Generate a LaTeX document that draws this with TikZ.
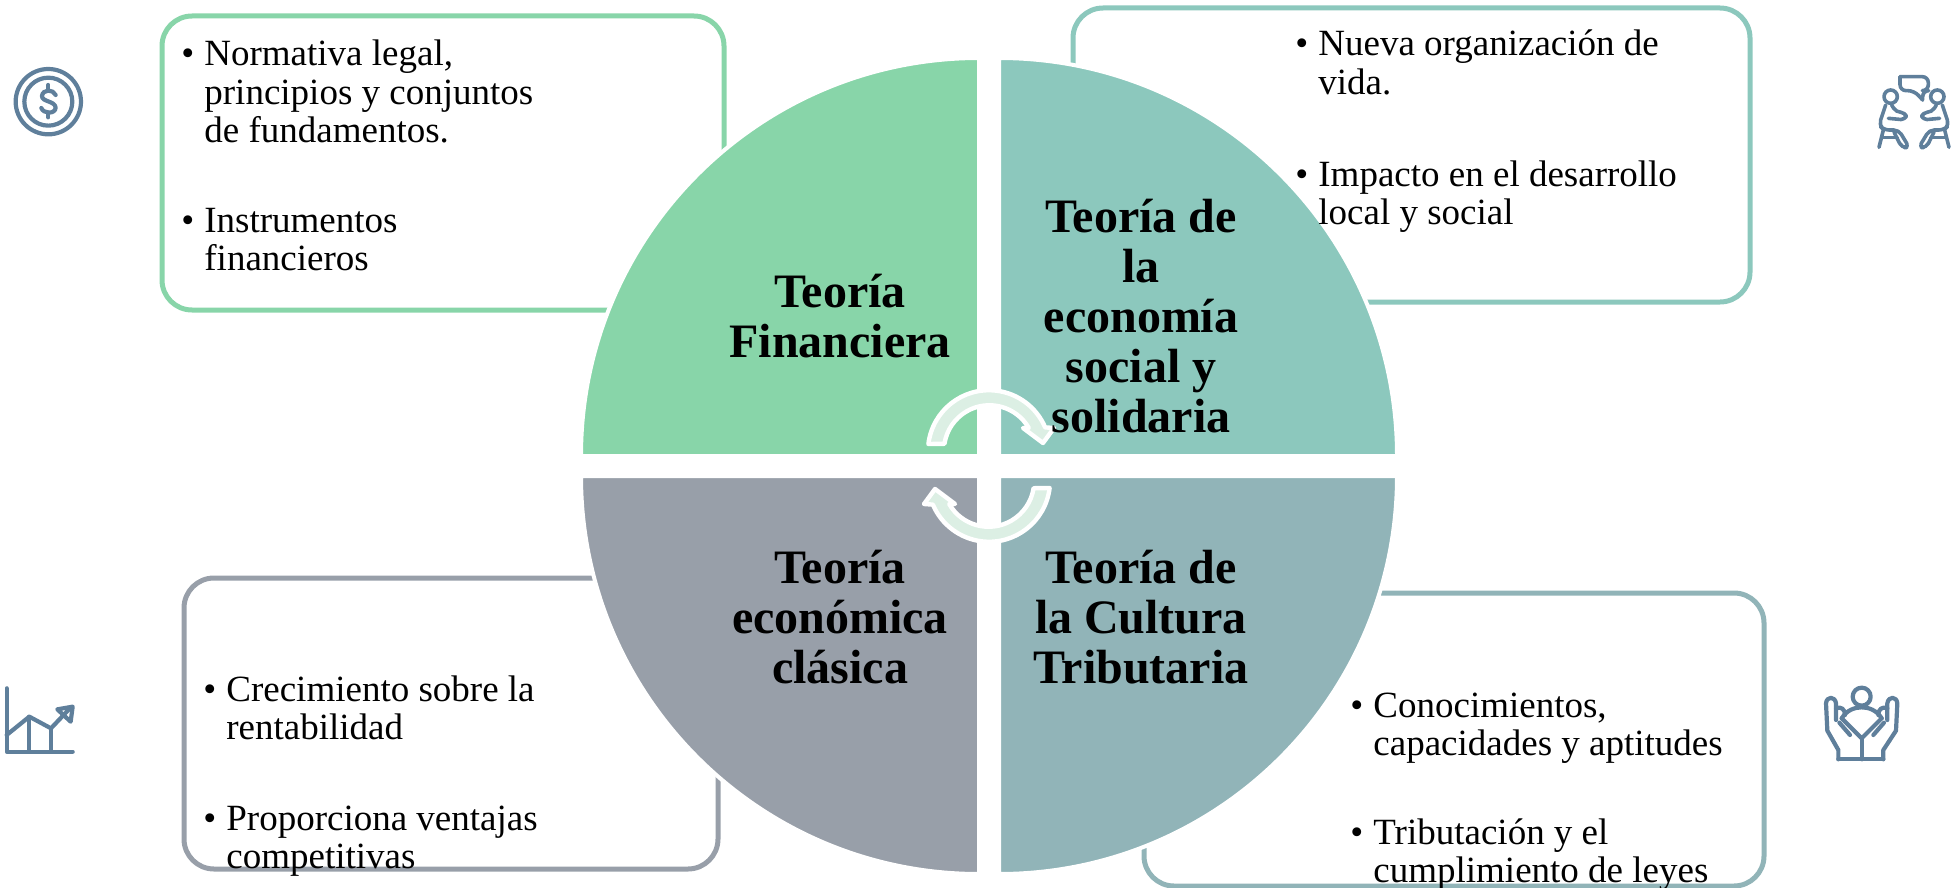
\documentclass[tikz,border=0pt]{standalone}
\usepackage{fontspec}
\setmainfont{Liberation Serif}
\definecolor{cGreen}{HTML}{88D5A9}
\definecolor{cTeal}{HTML}{8CC8BD}
\definecolor{cGrey}{HTML}{989FA9}
\definecolor{cBlue}{HTML}{91B4B8}
\definecolor{cIcon}{HTML}{5F7F9B}
\definecolor{cArrow}{HTML}{DCEFE4}
\newcommand{\bulletlines}[2]{{\fontsize{18.5pt}{19.2pt}\selectfont\begin{tabular}[t]{@{}l@{}l@{}}\makebox[11.5pt][l]{\textbullet}&#1\\#2\end{tabular}}}
\tikzset{
  x=0.5pt,y=0.5pt,
  cardbox/.style={rounded corners=15pt,line width=2.5pt,fill=white},
  wedge/.style={draw=white,line width=2pt},
  itemtext/.style={anchor=base west,inner sep=0pt,text=black},
  title/.style={font=\fontsize{24pt}{25pt}\selectfont\bfseries,align=center,inner sep=0pt,text=black},
  icon/.style={draw=cIcon,line width=2.1pt,line cap=round,line join=round},
  thinicon/.style={icon,line width=1.8pt},
  cyclearrow/.style={fill=cArrow,draw=white,line width=2.2pt,line join=round},
}
\begin{document}
\begin{tikzpicture}
\useasboundingbox (0,-888) rectangle (1959,0);
% cards
\draw[cardbox,draw=cGreen] (162,-16) rectangle (724,-310);
\draw[cardbox,draw=cTeal] (1073,-8) rectangle (1750,-302);
\draw[cardbox,draw=cGrey] (184,-578) rectangle (718,-869);
\draw[cardbox,draw=cBlue] (1144,-593) rectangle (1764,-886);
% quarter sectors
\draw[wedge,fill=cGreen] (979,-456) -- (581,-456) arc[start angle=180,end angle=90,radius=199pt] -- cycle;
\draw[wedge,fill=cTeal] (999,-456) -- (999,-58) arc[start angle=90,end angle=0,radius=199pt] -- cycle;
\draw[wedge,fill=cGrey] (979,-476) -- (979,-874) arc[start angle=270,end angle=180,radius=199pt] -- cycle;
\draw[wedge,fill=cBlue] (999,-476) -- (1397,-476) arc[start angle=0,end angle=-90,radius=199pt] -- cycle;
% cycle arrows
\draw[cyclearrow] (928.4,-444) arc[start angle=173.2,end angle=23,radius=30.5pt] -- (1054,-428) -- (1043,-443) -- (1023,-428) -- (1028.8,-428) arc[start angle=30,end angle=171.2,radius=22.75pt] -- cycle;
\begin{scope}[rotate around={180:(989,-466)}]
\draw[cyclearrow] (928.4,-444) arc[start angle=173.2,end angle=23,radius=30.5pt] -- (1054,-428) -- (1043,-443) -- (1023,-428) -- (1028.8,-428) arc[start angle=30,end angle=171.2,radius=22.75pt] -- cycle;
\end{scope}
% titles
\node[title] (tf) at (840,-316) {Teoría\\Financiera};
\node[title] (te) at (1141,-316) {Teoría de\\la\\economía\\social y\\solidaria};
\node[title] (tc) at (840,-617) {Teoría\\económica\\clásica};
\node[title] (tt) at (1141,-617) {Teoría de\\la Cultura\\Tributaria};
% bullets
\node[itemtext] (a1) at (181,-66) {\bulletlines{Normativa legal,}{&principios y conjuntos\\&de fundamentos.}};
\node[itemtext] (a2) at (181,-232) {\bulletlines{Instrumentos}{&financieros}};
\node[itemtext] (b1) at (1295,-56) {\bulletlines{Nueva organización de}{&vida.}};
\node[itemtext] (b2) at (1295,-186) {\bulletlines{Impacto en el desarrollo}{&local y social}};
\node[itemtext] (c1) at (203,-701) {\bulletlines{Crecimiento sobre la}{&rentabilidad}};
\node[itemtext] (c2) at (203,-830) {\bulletlines{Proporciona ventajas}{&competitivas}};
\node[itemtext] (d1) at (1350,-717) {\bulletlines{Conocimientos,}{&capacidades y aptitudes}};
\node[itemtext] (d2) at (1350,-844) {\bulletlines{Tributación y el}{&cumplimiento de leyes}};
% dollar icon
\begin{scope}[shift={(0,-40)},scale=0.3333]
\draw[icon] (145,-185) circle[radius=49pt];
\draw[icon] (145,-185) circle[radius=36pt];
\draw[icon] (145,-135) -- (145,-152);
\draw[icon] (145,-218) -- (145,-232);
\draw[icon] (167,-165) .. controls (160,-147) and (128,-147) .. (126,-168) .. controls (125,-186) and (165,-182) .. (167,-203) .. controls (166,-223) and (130,-222) .. (124,-204);
\end{scope}
% talk icon
\begin{scope}[shift={(1820,-50)},scale=0.3333]
\draw[thinicon] (212,-140) circle[radius=10pt];
\draw[thinicon] (352,-140) circle[radius=10pt];
\draw[thinicon,rounded corners=3pt] (240,-80) -- (325,-80) -- (325,-122) -- (308,-122) -- (308,-150);
\draw[thinicon,rounded corners=3pt] (308,-150) -- (282,-122) -- (240,-122) -- (240,-80);
\draw[thinicon,rounded corners=2.5pt] (197,-165) -- (177,-225) -- (192,-240) -- (236,-240) -- (268,-293) -- (245,-293) -- (222,-246);
\draw[thinicon,rounded corners=2.5pt] (215,-165) -- (228,-187) -- (258,-187) -- (258,-210) -- (205,-205);
\draw[thinicon] (190,-240) -- (177,-292);
\draw[thinicon] (190,-262) -- (232,-262);
\draw[thinicon,rounded corners=2.5pt] (367,-165) -- (387,-225) -- (372,-240) -- (328,-240) -- (296,-293) -- (319,-293) -- (342,-246);
\draw[thinicon,rounded corners=2.5pt] (349,-165) -- (336,-187) -- (306,-187) -- (306,-210) -- (359,-205);
\draw[thinicon] (374,-240) -- (387,-292);
\draw[thinicon] (374,-262) -- (332,-262);
\end{scope}
% chart icon
\begin{scope}[shift={(0,-660)},scale=0.3333]
\draw[icon] (20,-85) -- (20,-275) -- (218,-275);
\draw[icon] (20,-225) -- (88,-170) -- (153,-205) -- (205,-150);
\draw[icon] (88,-170) -- (88,-275);
\draw[icon] (153,-205) -- (153,-275);
\draw[icon] (172,-148) -- (218,-140) -- (212,-185) -- cycle;
\end{scope}
% hands icon
\begin{scope}[shift={(1800,-670)},scale=0.3333]
\draw[icon] (185,-80) circle[radius=13.5pt];
\draw[icon] (115,-268) -- (250,-268);
\draw[icon] (185,-205) -- (185,-268);
\draw[icon] (125,-145) .. controls (140,-120) and (165,-112) .. (185,-112) .. controls (205,-112) and (230,-120) .. (245,-145);
\draw[icon] (125,-145) -- (185,-205) -- (245,-145);
\draw[icon] (115,-268) -- (115,-240) -- (82,-182) -- (78,-100) .. controls (80,-78) and (105,-78) .. (108,-100) -- (108,-150);
\draw[icon] (108,-115) .. controls (122,-108) and (136,-118) .. (135,-135);
\draw[icon] (118,-158) -- (150,-195);
\draw[icon] (250,-268) -- (250,-240) -- (288,-182) -- (292,-100) .. controls (290,-78) and (265,-78) .. (262,-100) -- (262,-150);
\draw[icon] (262,-115) .. controls (248,-108) and (234,-118) .. (235,-135);
\draw[icon] (252,-158) -- (220,-195);
\end{scope}
\end{tikzpicture}
\end{document}
